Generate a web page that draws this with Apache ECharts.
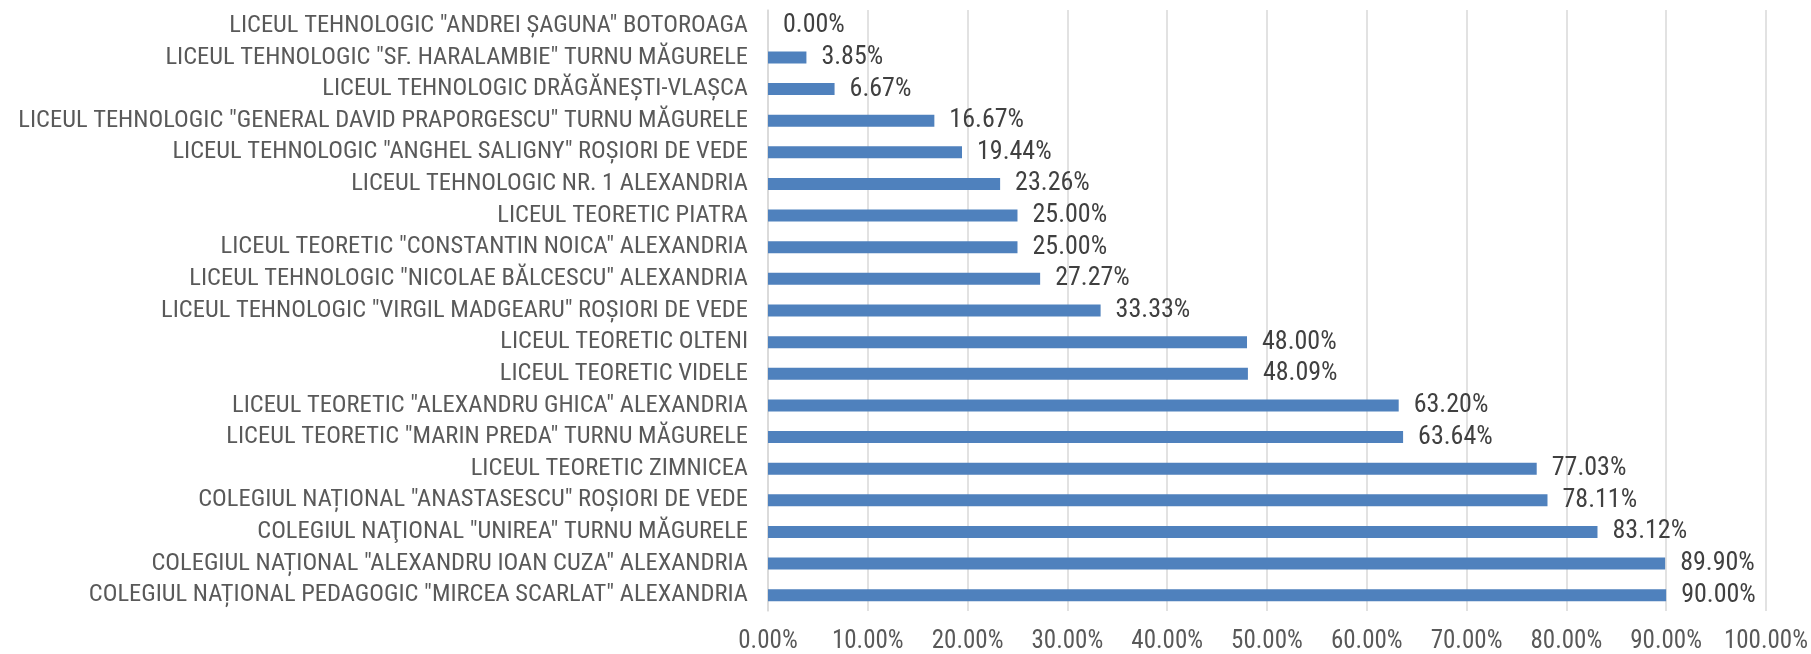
<!DOCTYPE html>
<html>
<head>
    <meta charset="utf-8" />
    <title>Licee Teleorman</title>
    <script src="https://cdn.jsdelivr.net/npm/echarts@6/dist/echarts.min.js"></script>
    <style>
        html, body { margin: 0; padding: 0; background: #fff; }
        #chart { width: 1811px; height: 654px; }
    </style>
</head>
<body>
    <div id="chart"></div>
    <script type="text/javascript">
        // categorii de jos in sus (ordinea din axa ECharts)
        var schools = [
            'COLEGIUL NAȚIONAL PEDAGOGIC "MIRCEA SCARLAT" ALEXANDRIA',
            'COLEGIUL NAȚIONAL "ALEXANDRU IOAN CUZA" ALEXANDRIA',
            'COLEGIUL NAŢIONAL "UNIREA" TURNU MĂGURELE',
            'COLEGIUL NAȚIONAL "ANASTASESCU" ROȘIORI DE VEDE',
            'LICEUL TEORETIC ZIMNICEA',
            'LICEUL TEORETIC "MARIN PREDA" TURNU MĂGURELE',
            'LICEUL TEORETIC "ALEXANDRU GHICA" ALEXANDRIA',
            'LICEUL TEORETIC VIDELE',
            'LICEUL TEORETIC OLTENI',
            'LICEUL TEHNOLOGIC "VIRGIL MADGEARU" ROȘIORI DE VEDE',
            'LICEUL TEHNOLOGIC "NICOLAE BĂLCESCU" ALEXANDRIA',
            'LICEUL TEORETIC "CONSTANTIN NOICA" ALEXANDRIA',
            'LICEUL TEORETIC PIATRA',
            'LICEUL TEHNOLOGIC NR. 1 ALEXANDRIA',
            'LICEUL TEHNOLOGIC "ANGHEL SALIGNY" ROȘIORI DE VEDE',
            'LICEUL TEHNOLOGIC "GENERAL DAVID PRAPORGESCU" TURNU MĂGURELE',
            'LICEUL TEHNOLOGIC DRĂGĂNEȘTI-VLAȘCA',
            'LICEUL TEHNOLOGIC "SF. HARALAMBIE" TURNU MĂGURELE',
            'LICEUL TEHNOLOGIC "ANDREI ȘAGUNA" BOTOROAGA'
        ];
        var rates = [90.00, 89.90, 83.12, 78.11, 77.03, 63.64, 63.20, 48.09, 48.00,
            33.33, 27.27, 25.00, 25.00, 23.26, 19.44, 16.67, 6.67, 3.85, 0.00];
        var ticks = [0, 10, 20, 30, 40, 50, 60, 70, 80, 90, 100];

        var font = '"Liberation Sans Narrow", "Roboto Condensed", Roboto, sans-serif';
        var myChart = echarts.init(document.getElementById('chart'));

        myChart.setOption({
            animation: false,
            grid: {
                left: 768,
                right: 45,
                top: 10,
                bottom: 40
            },
            xAxis: {
                type: 'value',
                min: ticks[0],
                max: ticks[ticks.length - 1],
                interval: 10,
                axisLine: { show: false },
                axisTick: { show: false },
                splitLine: { lineStyle: { color: '#d9d9d9', width: 1.5 } },
                axisLabel: {
                    margin: 18,
                    color: '#595959',
                    fontSize: 25,
                    fontFamily: font,
                    formatter: function (v) { return v.toFixed(2) + '%'; }
                }
            },
            yAxis: {
                type: 'category',
                data: schools,
                axisLine: { show: true, lineStyle: { color: '#d9d9d9', width: 1.5 } },
                axisTick: { show: false },
                axisLabel: {
                    interval: 0,
                    margin: 20,
                    color: '#595959',
                    fontSize: 24.5,
                    fontFamily: font
                }
            },
            series: [{
                type: 'bar',
                data: rates,
                barWidth: 12,
                itemStyle: { color: '#4f81bd' },
                label: {
                    show: true,
                    position: 'right',
                    distance: 15,
                    color: '#404040',
                    fontSize: 26,
                    fontFamily: font,
                    formatter: function (p) { return p.value.toFixed(2) + '%'; }
                }
            }]
        });
    </script>
</body>
</html>
